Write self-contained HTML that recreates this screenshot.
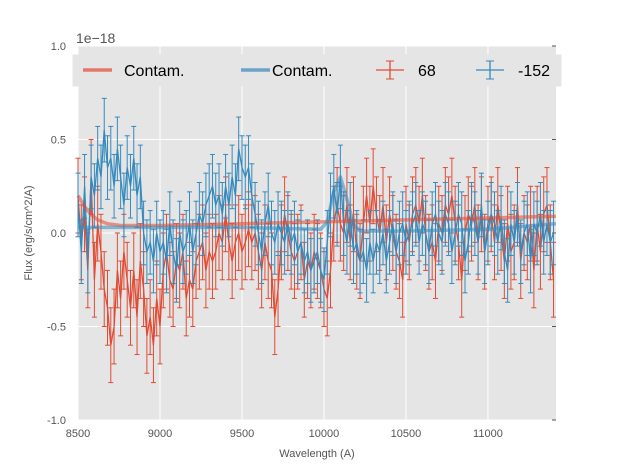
<!DOCTYPE html>
<html><head><meta charset="utf-8"><style>
body{margin:0;background:#fff;}
svg{display:block;font-family:"Liberation Sans",sans-serif;}
</style></head><body>
<svg id="chart" width="617" height="467" viewBox="0 0 617 467"></svg>
<script>
const redX0 = 8500, stepA = 20;
const redValues = [0.2,-0.05,0.1,-0.2,0.3,-0.25,0.05,-0.1,-0.3,-0.4,-0.6,
-0.5,-0.2,-0.35,-0.1,-0.25,-0.4,-0.2,-0.45,-0.15,-0.3,
-0.55,-0.45,-0.6,-0.35,-0.5,-0.2,-0.1,-0.25,-0.3,-0.15,
-0.2,-0.1,-0.35,-0.25,-0.3,-0.15,-0.1,-0.05,-0.2,-0.1,
-0.15,-0.1,0.0,-0.05,0.1,-0.05,-0.15,-0.05,0.0,-0.1,
-0.05,0.02,-0.05,0.0,-0.1,-0.2,-0.05,-0.15,-0.2,-0.45,
-0.3,-0.05,0.1,0.0,-0.1,-0.15,-0.1,-0.05,-0.25,-0.15,
-0.2,-0.1,-0.15,-0.2,-0.3,-0.35,-0.2,0.05,0.15,0.05,
0.0,0.15,-0.05,0.1,-0.1,-0.15,0.05,0.2,0.05,0.25,
0.1,0.0,0.15,-0.05,0.1,0.0,-0.1,-0.15,-0.25,0.05,
-0.05,0.1,0.15,0.05,0.2,0.0,-0.1,-0.05,-0.15,0.05,
0.0,0.15,0.1,0.2,0.05,-0.05,-0.25,0.0,0.1,0.05,
0.15,-0.05,0.1,-0.1,0.05,0.1,-0.05,0.15,0.0,-0.15,
0.05,-0.1,-0.05,0.15,-0.15,0.0,-0.05,0.05,-0.2,0.05,
-0.1,0.1,0.15,-0.05,-0.25];
const blueValues = [0.15,-0.1,0.25,-0.15,0.3,0.2,0.4,0.3,0.55,0.35,0.4,
0.25,0.45,0.3,0.15,0.35,0.25,0.4,0.2,0.3,0.0,
-0.1,-0.05,-0.15,0.0,-0.1,-0.05,-0.15,0.05,-0.1,-0.2,
0.0,-0.1,-0.05,0.05,-0.1,0.0,0.1,0.05,0.15,0.2,
0.25,0.15,0.2,0.1,0.25,0.15,0.3,0.2,0.45,0.35,
0.3,0.35,0.2,0.1,0.0,-0.1,0.05,0.15,0.0,-0.05,
0.05,0.0,-0.05,0.05,-0.05,0.0,-0.1,-0.05,-0.15,-0.1,
-0.2,-0.15,-0.1,-0.2,-0.25,-0.05,0.15,0.25,0.1,0.3,
0.05,-0.05,0.1,-0.1,-0.05,-0.15,-0.1,-0.2,-0.05,-0.15,
-0.05,-0.1,0.0,-0.15,-0.05,0.05,-0.1,0.0,0.05,-0.05,
0.0,0.05,0.1,-0.05,0.05,0.0,-0.1,0.05,0.1,0.0,
-0.05,0.1,0.05,-0.1,0.0,0.1,0.05,-0.15,-0.05,0.1,
0.05,-0.05,0.15,-0.1,0.0,0.1,0.05,-0.05,0.08,-0.1,
-0.2,0.05,-0.05,0.1,-0.1,0.0,0.05,-0.15,0.05,0.0,
0.1,-0.05,0.05,-0.05,0.0];
const redErr = 0.2;
const blueErr = 0.17;
const redContamX = [8500,8540,8580,8620,8680,8760,9000,9500,10000,10500,11000,11415];
const redContamY = [0.2,0.14,0.1,0.07,0.05,0.04,0.04,0.05,0.06,0.07,0.08,0.09];
const blueContamX = [8500,9000,9500,9980,10020,10060,10100,10140,10180,10220,10500,11000,11415];
const blueContamY = [0.03,0.03,0.03,0.02,0.06,0.22,0.3,0.18,0.05,0.01,0.01,0.02,0.05];
const xTicks = [8500,9000,9500,10000,10500,11000];
const xTickLabels = ["8500","9000","9500","10000","10500","11000"];
const yTicks = [-1,-0.5,0,0.5,1];
const yTickLabels = ["-1.0","-0.5","0.0","0.5","1.0"];

const L=78,R=556,T=46,B=420,xmin=8500,xmax=11415,ymin=-1,ymax=1;
const sx=v=>L+(v-xmin)/(xmax-xmin)*(R-L);
const sy=v=>B-(v-ymin)/(ymax-ymin)*(B-T);
const svg=document.getElementById('chart');
const NS='http://www.w3.org/2000/svg';
function mk(tag,attrs,parent){const e=document.createElementNS(NS,tag);for(const k in attrs)e.setAttribute(k,attrs[k]);(parent||svg).appendChild(e);return e;}

const bg=mk('rect',{x:L,y:T,width:R-L,height:B-T,fill:'#e5e5e5'});


xTicks.forEach((t,i)=>{
  const g=mk('line',{x1:sx(t),x2:sx(t),y1:T,y2:B,stroke:'#fff','stroke-width':1});
  
  
  const tx=mk('text',{x:sx(t),y:B+17,'text-anchor':'middle','font-size':11,fill:'#555'});
  tx.textContent=xTickLabels[i];
  
  
});
yTicks.forEach((t,i)=>{
  const g=mk('line',{x1:L,x2:R,y1:sy(t),y2:sy(t),stroke:'#fff','stroke-width':1});
  
  
  mk('line',{x1:R-4,x2:R,y1:sy(t),y2:sy(t),stroke:'#555','stroke-width':1});
  const tx=mk('text',{x:L-12,y:sy(t)+4,'text-anchor':'end','font-size':11,fill:'#555'});
  tx.textContent=yTickLabels[i];
  
  
});

function series(vals,err,color,name){
  const g=mk('g',{});
  
  
  vals.forEach((v,i)=>{
    const x=sx(redX0+stepA*i);
    mk('line',{x1:x,x2:x,y1:sy(v-err),y2:sy(v+err),stroke:color,'stroke-width':1},g);
    mk('line',{x1:x-2.5,x2:x+2.5,y1:sy(v-err),y2:sy(v-err),stroke:color,'stroke-width':1},g);
    mk('line',{x1:x-2.5,x2:x+2.5,y1:sy(v+err),y2:sy(v+err),stroke:color,'stroke-width':1},g);
  });
  const pts=vals.map((v,i)=>sx(redX0+stepA*i).toFixed(1)+','+sy(v).toFixed(1)).join(' ');
  mk('polyline',{points:pts,fill:'none',stroke:color,'stroke-width':1.3},g);
}
function contam(xs,ys,color,name){
  const pts=xs.map((x,i)=>sx(x).toFixed(1)+','+sy(ys[i]).toFixed(1)).join(' ');
  const p=mk('polyline',{points:pts,fill:'none',stroke:color,'stroke-width':3.5,'stroke-opacity':0.55,'stroke-linejoin':'round'});
  
  
}
series(redValues,redErr,'#E24A33','series-68');
series(blueValues,blueErr,'#348ABD','series-minus152');
contam(redContamX,redContamY,'#E24A33','contam-68-line');
contam(blueContamX,blueContamY,'#348ABD','contam-minus152-line');

const lg=mk('g',{});


mk('rect',{x:73,y:55,width:488,height:31,fill:'#e5e5e5',stroke:'#e5e5e5'},lg);
mk('line',{x1:83,x2:112,y1:70,y2:70,stroke:'#E24A33','stroke-width':3.5,'stroke-opacity':0.7},lg);
mk('line',{x1:241,x2:270,y1:70,y2:70,stroke:'#348ABD','stroke-width':3.5,'stroke-opacity':0.7},lg);
[['#E24A33',376],['#348ABD',476]].forEach(([c,x])=>{
  mk('line',{x1:x,x2:x+28,y1:70,y2:70,stroke:c,'stroke-width':1.3},lg);
  mk('line',{x1:x+14,x2:x+14,y1:61,y2:79,stroke:c,'stroke-width':1.3},lg);
  mk('line',{x1:x+10,x2:x+18,y1:61,y2:61,stroke:c,'stroke-width':1},lg);
  mk('line',{x1:x+10,x2:x+18,y1:79,y2:79,stroke:c,'stroke-width':1},lg);
});
[['Contam.',124],['Contam.',272],['68',418],['-152',518]].forEach(([t,x])=>{
  const tx=mk('text',{x:x,y:76,'font-size':16,fill:'#000'},lg);
  tx.textContent=t;
  
  
});

const off=mk('text',{x:76,y:43,'font-size':14,fill:'#555'});
off.textContent='1e\u221218';


const xl=mk('text',{x:317,y:457,'text-anchor':'middle','font-size':11,fill:'#555'});
xl.textContent='Wavelength (A)';


const yl=mk('text',{x:32,y:233,'text-anchor':'middle','font-size':11,fill:'#555',transform:'rotate(-90 32 233)'});
yl.textContent='Flux (erg/s/cm^2/A)';


</script>
</body></html>
